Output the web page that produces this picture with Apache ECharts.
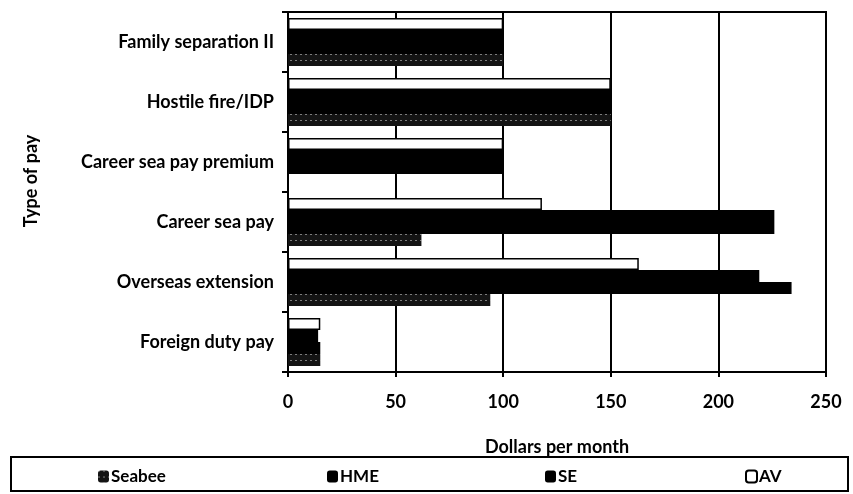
<!DOCTYPE html>
<html>
<head>
<meta charset="utf-8">
<script src="https://cdn.jsdelivr.net/npm/echarts@6/dist/echarts.min.js"></script>
<style>
  html, body { margin: 0; padding: 0; background: #fff; }
  #chart { width: 853px; height: 494px; }
</style>
</head>
<body>
<div id="chart"></div>
<script>
// categories listed bottom to top (category axis starts at the bottom)
const payTypes = ['Foreign duty pay', 'Overseas extension', 'Career sea pay', 'Career sea pay premium', 'Hostile fire/IDP', 'Family separation II']
const seabee = [15, 94, 62, 0, 150, 100]
const hme = [15, 234, 226, 100, 150, 100]
const se = [14, 219, 226, 100, 150, 100]
const av = [15, 163, 118, 100, 150, 100]
const xTicks = [0, 50, 100, 150, 200, 250]

const font = 'Lato, "DejaVu Sans", sans-serif'
const chart = echarts.init(document.getElementById('chart'))

const seabeeStyle = {
  color: '#141414',
  decal: {
    symbol: 'rect',
    symbolSize: 1,
    color: 'rgba(255,255,255,0.45)',
    dashArrayX: [[2, 3]],
    dashArrayY: [1, 5],
    rotation: 0
  }
}

function legendAt(name, left) {
  return {
    data: [name],
    left: left,
    top: 468,
    itemWidth: 11,
    itemHeight: 12,
    itemGap: 0,
    padding: 0,
    textStyle: { fontFamily: font, fontSize: 17, fontWeight: 'bold', color: '#000', padding: [0, 0, 0, -3] }
  }
}

chart.setOption({
  animation: false,
  grid: {
    left: 288, right: 27, top: 12, bottom: 122,
    show: true, borderColor: '#000', borderWidth: 2
  },
  legend: [
    legendAt('Seabee', 98),
    legendAt('HME', 327),
    legendAt('SE', 545),
    legendAt('AV', 745)
  ],
  graphic: [{
    type: 'rect',
    shape: { x: 11, y: 457, width: 837, height: 34 },
    style: { fill: 'none', stroke: '#000', lineWidth: 2 },
    silent: true
  }],
  xAxis: {
    type: 'value',
    min: xTicks[0],
    max: xTicks[xTicks.length - 1],
    interval: 50,
    name: 'Dollars per month',
    nameLocation: 'middle',
    nameGap: 66,
    nameTextStyle: { fontFamily: font, fontSize: 18, fontWeight: 'bold', color: '#000' },
    axisLine: { show: true, lineStyle: { color: '#000', width: 2 } },
    axisTick: { show: true, length: 5, lineStyle: { color: '#000', width: 2 } },
    axisLabel: { margin: 21, fontFamily: font, fontSize: 18, fontWeight: 'bold', color: '#000' },
    splitLine: { show: true, lineStyle: { color: '#000', width: 2 } }
  },
  yAxis: {
    type: 'category',
    data: payTypes,
    name: 'Type of pay',
    nameLocation: 'middle',
    nameGap: 248,
    nameTextStyle: { fontFamily: font, fontSize: 18, fontWeight: 'bold', color: '#000', padding: [0, 0, 0, 22] },
    axisLine: { show: true, lineStyle: { color: '#000', width: 2 } },
    axisTick: { show: true, length: 6, lineStyle: { color: '#000', width: 2 } },
    axisLabel: { margin: 14, fontFamily: font, fontSize: 18, fontWeight: 'bold', color: '#000' },
    splitLine: { show: false }
  },
  series: [
    {
      name: 'AV', type: 'bar', data: av, barWidth: 12, barGap: '0%',
      itemStyle: { color: '#fff', borderColor: '#000', borderWidth: 1.5 }
    },
    {
      name: 'SE', type: 'bar', data: se, barWidth: 12, barGap: '0%',
      itemStyle: { color: '#000' }
    },
    {
      name: 'HME', type: 'bar', data: hme, barWidth: 12, barGap: '0%',
      itemStyle: { color: '#000' }
    },
    {
      name: 'Seabee', type: 'bar', data: seabee, barWidth: 12, barGap: '0%',
      itemStyle: seabeeStyle
    }
  ]
})

window.addEventListener('resize', () => chart.resize())
</script>
</body>
</html>
